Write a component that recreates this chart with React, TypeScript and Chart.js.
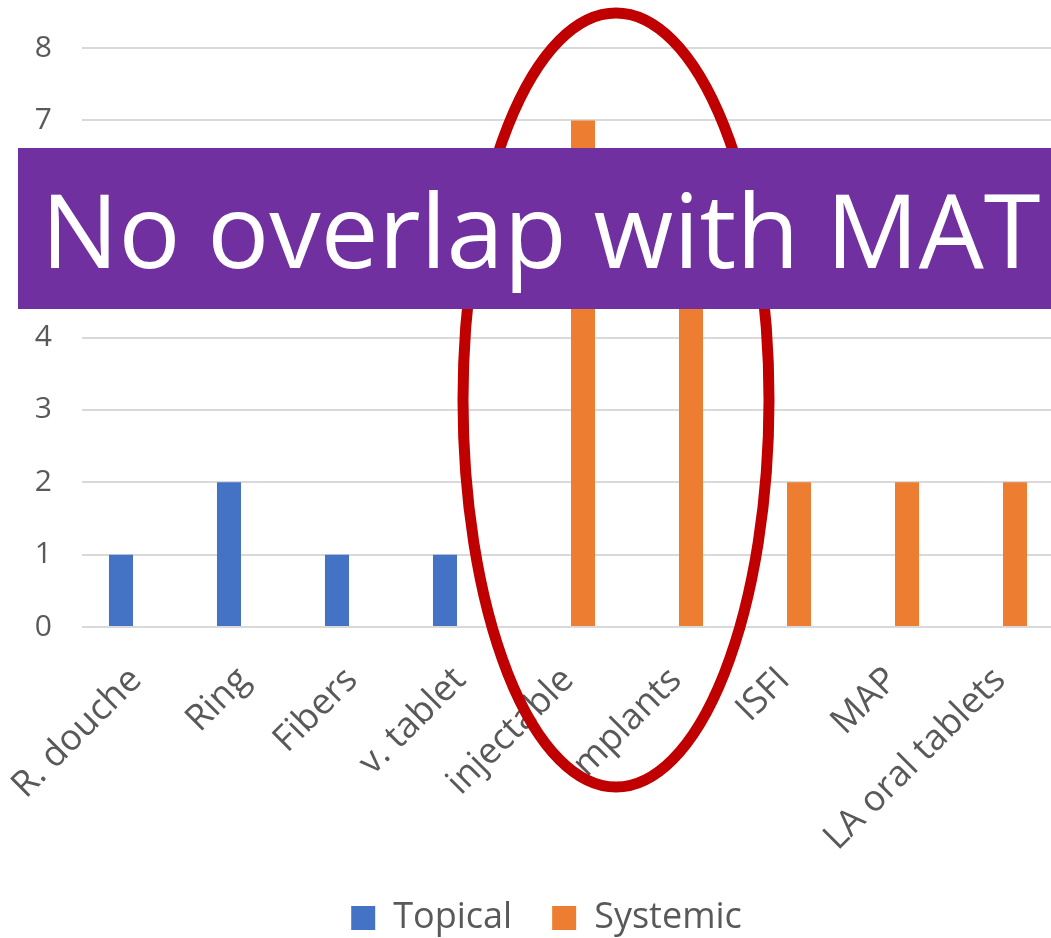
import React, { useEffect, useRef } from "react";
import { Chart, registerables } from "chart.js";

Chart.register(...registerables);

const categories = [
  "R. douche",
  "Ring",
  "Fibers",
  "v. tablet",
  "injectable",
  "implants",
  "ISFI",
  "MAP",
  "LA oral tablets",
];
const topicalValues = [1, 2, 1, 1, null, null, null, null, null];
const systemicValues = [null, null, null, null, 7, 5, 2, 2, 2];
const seriesNames = ["Topical", "Systemic"];
const yTicks = [0, 1, 2, 3, 4, 5, 6, 7, 8];
const bannerText = "No overlap with MAT";

const FONT = "'Open Sans', 'Noto Sans', sans-serif";
const TEXT = "#595959";
const GRID = "#d9d9d9";

const ellipsePlugin = {
  id: "redEllipse",
  afterDraw(chart: any) {
    const ctx = chart.ctx;
    ctx.save();
    ctx.beginPath();
    ctx.ellipse(616, 400, 153, 387, 0, 0, Math.PI * 2);
    ctx.strokeStyle = "#C00000";
    ctx.lineWidth = 11;
    ctx.stroke();
    ctx.restore();
  },
};

export default function App() {
  const ref = useRef<HTMLCanvasElement | null>(null);

  useEffect(() => {
    if (!ref.current) return;
    const chart = new Chart(ref.current, {
      type: "bar",
      data: {
        labels: categories,
        datasets: [
          {
            label: seriesNames[0],
            data: topicalValues as any,
            backgroundColor: "#4472C4",
            categoryPercentage: 0.556,
            barPercentage: 0.8,
            yAxisID: "y",
          },
          {
            label: seriesNames[1],
            data: systemicValues as any,
            backgroundColor: "#ED7D31",
            categoryPercentage: 0.556,
            barPercentage: 0.8,
            yAxisID: "y",
          },
        ],
      },
      options: {
        responsive: false,
        animation: false,
        devicePixelRatio: 1,
        layout: { padding: { top: 47, left: 0, right: 0, bottom: 0 } },
        plugins: {
          tooltip: { enabled: false },
          legend: {
            position: "bottom",
            labels: {
              boxWidth: 24,
              boxHeight: 24,
              padding: 40,
              color: TEXT,
              font: { family: FONT, size: 36 },
            },
          },
        },
        scales: {
          x: {
            grid: { display: false },
            border: { display: false },
            ticks: {
              autoSkip: false,
              minRotation: 45,
              maxRotation: 45,
              color: TEXT,
              padding: 24,
              font: { family: FONT, size: 36 },
            },
            afterFit(scale: any) {
              scale.height = 233;
              scale.paddingLeft = 0;
              scale.paddingRight = 0;
            },
          },
          y: {
            min: yTicks[0],
            max: yTicks[yTicks.length - 1],
            position: "left",
            grid: { color: GRID, lineWidth: 2, drawTicks: false },
            border: { display: false },
            ticks: {
              stepSize: 1,
              color: TEXT,
              padding: 30,
              font: { family: FONT, size: 30 },
            },
            afterFit(scale: any) {
              scale.width = 82;
            },
          },
          y2: {
            position: "right",
            display: true,
            grid: { display: false, drawTicks: false },
            border: { display: false },
            ticks: { display: false },
            afterFit(scale: any) {
              scale.width = 39;
            },
          },
        },
      },
      plugins: [ellipsePlugin],
    });
    return () => chart.destroy();
  }, []);

  return (
    <div
      style={{
        position: "absolute",
        left: 0,
        top: 0,
        width: 1051,
        height: 938,
        overflow: "hidden",
        background: "#ffffff",
      }}
    >
      <canvas ref={ref} width={1093} height={946} style={{ display: "block" }} />
      <div
        style={{
          position: "absolute",
          left: 18,
          top: 148,
          width: 1100,
          height: 161,
          background: "#7030A0",
          color: "#ffffff",
          fontFamily: FONT,
          fontSize: 103,
          lineHeight: "161px",
          paddingLeft: 23,
          boxSizing: "border-box",
          whiteSpace: "nowrap",
        }}
      >
        {bannerText}
      </div>
    </div>
  );
}
